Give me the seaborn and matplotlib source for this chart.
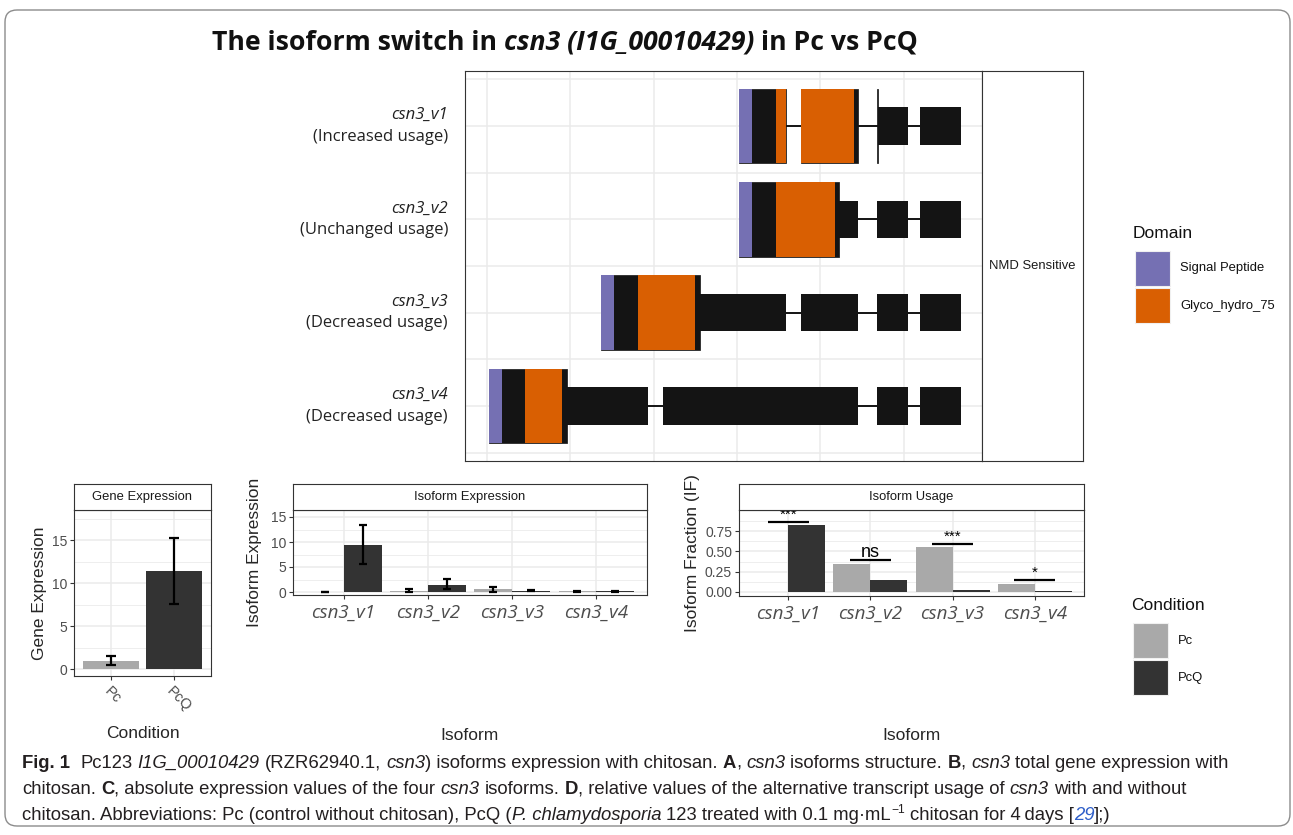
import numpy as np
import pandas as pd
import matplotlib
matplotlib.use("Agg")
import matplotlib.pyplot as plt
import seaborn as sns
from matplotlib import font_manager
from matplotlib.patches import FancyBboxPatch, Rectangle
from matplotlib.transforms import IdentityTransform, blended_transform_factory

# ---- data ----
conditions = ['Pc', 'PcQ']
cond_colors = ['#A9A9A9', '#333333']

# B: total gene expression (mean, lower, upper)
gene_expr = [0.93, 11.4]
gene_lo = [0.45, 7.6]
gene_hi = [1.48, 15.2]

isoforms = ['csn3_v1', 'csn3_v2', 'csn3_v3', 'csn3_v4']
usage_labels = ['(Increased usage)', '(Unchanged usage)', '(Decreased usage)', '(Decreased usage)']

# C: isoform expression
iso_pc = [0.0, 0.2, 0.55, 0.12]
iso_pc_lo = [0.0, 0.0, 0.0, 0.1]
iso_pc_hi = [0.0, 0.67, 1.1, 0.3]
iso_pcq = [9.47, 1.47, 0.25, 0.12]
iso_pcq_lo = [5.67, 0.67, 0.18, 0.1]
iso_pcq_hi = [13.5, 2.67, 0.35, 0.3]

# D: isoform usage (IF) and significance
if_pc = [0.0, 0.34, 0.553, 0.102]
if_pcq = [0.828, 0.148, 0.02, 0.008]
sig_labels = ['***', 'ns', '***', '*']
sig_y = [0.86, 0.39, 0.594, 0.152]

# A: transcript structures (arbitrary bp scale)
exons_v1 = [(1512, 1794), (1884, 2226), (2340, 2526), (2598, 2844)]
exons_v2 = [(1512, 2226), (2340, 2526), (2598, 2844)]
exons_v3 = [(684, 1794), (1884, 2226), (2340, 2526), (2598, 2844)]
exons_v4 = [(12, 966), (1056, 2226), (2340, 2526), (2598, 2844)]
all_exons = [exons_v1, exons_v2, exons_v3, exons_v4]
cds_ranges = [(1512, 2346), (1512, 2112), (684, 1278), (12, 480)]
signal_peptide = [(1512, 1590), (1512, 1590), (684, 762), (12, 90)]
glyco_hydro = [(1734, 2199), (1734, 2088), (906, 1248), (228, 450)]
domain_names = ['Signal Peptide', 'Glyco_hydro_75']
domain_colors = ['#7570B3', '#D95F02']

# ---- setup ----
W, H = 1293, 835
sns.set_theme(style="white")
plt.rcParams['font.family'] = ['Liberation Sans', 'DejaVu Sans']
names = {f.name for f in font_manager.fontManager.ttflist}
cap_family = 'Liberation Sans Narrow' if 'Liberation Sans Narrow' in names else 'Liberation Sans'
HUM = ['Open Sans', 'DejaVu Sans']

fig = plt.figure(figsize=(W / 100, H / 100), dpi=100)
fig.patch.set_facecolor('white')
rend = fig.canvas.get_renderer()

GRID = '#EBEBEB'
BORDER = '#333333'
TICKTXT = '#4D4D4D'
EXON = '#141414'
SMALL = 9.4


def fx(x):
    return x / W


def fy(y):
    return 1 - y / H


def px_axes(x0, y0, x1, y1):
    return fig.add_axes([x0 / W, 1 - y1 / H, (x1 - x0) / W, (y1 - y0) / H])


def px_rect(x0, y0, x1, y1, **kw):
    fig.add_artist(Rectangle((x0, H - y1), x1 - x0, y1 - y0,
                             transform=IdentityTransform(), **kw))


def frame(ax):
    for s in ax.spines.values():
        s.set_visible(True)
        s.set_color(BORDER)
        s.set_linewidth(0.8)


def strip(x0, y0, x1, y1, label):
    ax = px_axes(x0, y0, x1, y1)
    ax.set_facecolor('white')
    ax.set_xticks([])
    ax.set_yticks([])
    frame(ax)
    ax.text(0.5, 0.5, label, ha='center', va='center', fontsize=SMALL,
            color='#1A1A1A', transform=ax.transAxes)
    return ax


def style_bar_axis(ax, ylim, major, minor, ncat):
    ax.set_xlim(-0.6, ncat - 0.4)
    ax.set_ylim(*ylim)
    ax.set_yticks(major)
    ax.set_yticks(minor, minor=True)
    ax.set_axisbelow(True)
    ax.yaxis.grid(True, which='major', color=GRID, lw=1.1)
    ax.yaxis.grid(True, which='minor', color=GRID, lw=0.6)
    ax.xaxis.grid(True, which='major', color=GRID, lw=1.1)
    ax.tick_params(which='major', length=3, width=0.8, color=BORDER,
                   labelsize=10, labelcolor=TICKTXT, pad=2, left=True, bottom=True)
    ax.tick_params(axis='x', pad=3)
    ax.tick_params(which='minor', length=0)
    ax.set_xlabel('')
    ax.set_ylabel('')
    frame(ax)


def add_errorbars(ax, means, lows, highs, capsize):
    bars = sorted(ax.patches, key=lambda p: p.get_x())
    xs = [b.get_x() + b.get_width() / 2 for b in bars]
    m = np.array(means)
    err = [m - np.array(lows), np.array(highs) - m]
    ax.errorbar(xs, m, yerr=err, fmt='none', ecolor='black', elinewidth=1.6,
                capsize=capsize, capthick=1.6, zorder=5)


def measure(s, **kw):
    t1 = fig.text(0, 0, '|' + s + '|', **kw)
    t2 = fig.text(0, 0, '||', **kw)
    w = t1.get_window_extent(rend).width - t2.get_window_extent(rend).width
    t1.remove()
    t2.remove()
    return w


def run_props(style, size, family, color):
    kw = dict(fontsize=size, family=family, color=color)
    if 'b' in style:
        kw['fontweight'] = 'bold'
    if 'i' in style:
        kw['fontstyle'] = 'italic'
    if style == 'sup':
        kw['fontsize'] = size * 0.65
    if style == 'link':
        kw['color'] = '#2F5FC9'
    return kw


def runs_width(runs, size, family, color):
    return sum(measure(s, **run_props(st, size, family, color)) for s, st in runs)


def draw_runs(runs, x, y, size, family, color, center=False):
    if center:
        x -= runs_width(runs, size, family, color) / 2
    for s, st in runs:
        kw = run_props(st, size, family, color)
        lead = len(s) - len(s.lstrip(' '))
        xs = x + (measure(s[:lead], **kw) if lead else 0)
        dy = size * 0.55 if st == 'sup' else 0
        fig.text(fx(xs), fy(y - dy), s.strip(' '), ha='left', va='baseline', **kw)
        x += measure(s, **kw)


# ---- outer frame ----
fig.add_artist(FancyBboxPatch((5, H - 826), 1285, 816,
                              boxstyle='round,pad=0,rounding_size=12',
                              transform=IdentityTransform(), fill=False,
                              edgecolor='#8C8C8C', lw=1.0))

# ---- title ----
title_runs = [('The isoform switch in ', 'b'), ('csn3 (I1G_00010429)', 'bi'),
              (' in Pc vs PcQ', 'b')]
draw_runs(title_runs, 565, 50, 19.2, HUM, '#111111', center=True)

# ---- panel A: isoform structures ----
axA = px_axes(465, 71, 982, 461)
axA.set_xlim(-132, 2970)
axA.set_ylim(len(isoforms) - 1 + 0.59, -0.59)
axA.set_xticks(np.arange(0, 2501, 500))
axA.set_yticks(range(len(isoforms)))
axA.set_yticks(np.arange(-0.5, len(isoforms), 1.0), minor=True)
axA.set_axisbelow(True)
axA.grid(True, which='major', color=GRID, lw=1.1)
axA.yaxis.grid(True, which='minor', color=GRID, lw=1.1)
axA.tick_params(which='both', length=0, labelbottom=False, labelleft=False)
frame(axA)

for i, exons in enumerate(all_exons):
    cs, ce = cds_ranges[i]
    axA.hlines(i, exons[0][0], exons[-1][1], color=EXON, lw=1.4, zorder=2)
    tall, short = [], []
    for s, e in exons:
        ts, te = max(s, cs), min(e, ce)
        if te > ts:
            tall.append((ts, te - ts))
        if s < cs and min(e, cs) > s:
            short.append((s, min(e, cs) - s))
        if e > ce and e > max(s, ce):
            short.append((max(s, ce), e - max(s, ce)))
    axA.broken_barh(short, (i - 0.2, 0.4), facecolor=EXON, edgecolor='none', zorder=3)
    axA.broken_barh(tall, (i - 0.4, 0.8), facecolor=EXON, edgecolor=EXON, lw=0.5, zorder=3)
    for dom, col in zip([signal_peptide[i], glyco_hydro[i]], domain_colors):
        pieces = []
        for s, e in exons:
            ds, de = max(s, dom[0]), min(e, dom[1])
            if de > ds:
                pieces.append((ds, de - ds))
        axA.broken_barh(pieces, (i - 0.4, 0.8), facecolor=col, edgecolor='none', zorder=4)

lab_tr = blended_transform_factory(axA.transAxes, axA.transData)
for i, (iso, use) in enumerate(zip(isoforms, usage_labels)):
    axA.text(-0.033, i - 0.115, iso, transform=lab_tr, ha='right', va='center',
             fontsize=12, family=HUM, fontstyle='italic', color='#222222')
    axA.text(-0.033, i + 0.115, use, transform=lab_tr, ha='right', va='center',
             fontsize=12, family=HUM, color='#222222')

strip(982, 71, 1083, 461, 'NMD Sensitive')

# ---- panel B: gene expression ----
axB = px_axes(74, 510, 211, 676)
df_gene = pd.DataFrame({'Condition': conditions, 'value': gene_expr})
sns.barplot(data=df_gene, x='Condition', y='value', hue='Condition', order=conditions,
            hue_order=conditions, palette=cond_colors, width=0.9, errorbar=None,
            linewidth=0, legend=False, ax=axB)
add_errorbars(axB, gene_expr, gene_lo, gene_hi, 3.8)
style_bar_axis(axB, (-0.81, 18.5), [0, 5, 10, 15], [2.5, 7.5, 12.5, 17.5], len(conditions))
axB.set_xticks(range(len(conditions)))
axB.set_xticklabels(conditions, rotation=-45, ha='left', va='top',
                    rotation_mode='anchor', fontsize=10.5, color=TICKTXT)
strip(74, 484, 211, 510, 'Gene Expression')

# ---- panel C: isoform expression ----
axC = px_axes(293, 510, 647, 595)
df_iso = pd.DataFrame({'Isoform': isoforms * 2,
                       'Condition': ['Pc'] * 4 + ['PcQ'] * 4,
                       'value': iso_pc + iso_pcq})
sns.barplot(data=df_iso, x='Isoform', y='value', hue='Condition', order=isoforms,
            hue_order=conditions, palette=cond_colors, width=0.9, errorbar=None,
            linewidth=0, legend=False, ax=axC)
c_mean = [v for pair in zip(iso_pc, iso_pcq) for v in pair]
c_lo = [v for pair in zip(iso_pc_lo, iso_pcq_lo) for v in pair]
c_hi = [v for pair in zip(iso_pc_hi, iso_pcq_hi) for v in pair]
add_errorbars(axC, c_mean, c_lo, c_hi, 3.0)
style_bar_axis(axC, (-0.6, 16.4), [0, 5, 10, 15], [2.5, 7.5, 12.5], len(isoforms))
axC.set_xticks(range(len(isoforms)))
axC.set_xticklabels(isoforms, fontsize=13.5, family=HUM, fontstyle='italic', color=TICKTXT)
strip(293, 484, 647, 510, 'Isoform Expression')

# ---- panel D: isoform usage ----
axD = px_axes(739, 510, 1084, 596)
df_if = pd.DataFrame({'Isoform': isoforms * 2,
                      'Condition': ['Pc'] * 4 + ['PcQ'] * 4,
                      'value': if_pc + if_pcq})
sns.barplot(data=df_if, x='Isoform', y='value', hue='Condition', order=isoforms,
            hue_order=conditions, palette=cond_colors, width=0.9, errorbar=None,
            linewidth=0, legend=False, ax=axD)
style_bar_axis(axD, (-0.05, 1.01), [0, 0.25, 0.5, 0.75], [0.125, 0.375, 0.625, 0.875],
               len(isoforms))
axD.set_yticklabels(['0.00', '0.25', '0.50', '0.75'])
axD.set_xticks(range(len(isoforms)))
axD.set_xticklabels(isoforms, fontsize=13.5, family=HUM, fontstyle='italic', color=TICKTXT)
for i, (lab, yv) in enumerate(zip(sig_labels, sig_y)):
    axD.hlines(yv, i - 0.25, i + 0.25, color='black', lw=1.6, zorder=6)
    is_ns = lab == 'ns'
    axD.text(i, yv + (-0.012 if is_ns else 0.0), lab, ha='center', va='bottom', zorder=6,
             fontsize=13 if is_ns else 11, color='black', clip_on=True)
strip(739, 484, 1084, 510, 'Isoform Usage')

# ---- axis titles ----
fig.text(fx(40), fy(593), 'Gene Expression', rotation=90, ha='center', va='center', fontsize=12.5)
fig.text(fx(255), fy(552), 'Isoform Expression', rotation=90, ha='center', va='center', fontsize=12.5)
fig.text(fx(692), fy(553), 'Isoform Fraction (IF)', rotation=90, ha='center', va='center', fontsize=12.5)
fig.text(fx(143), fy(733), 'Condition', ha='center', va='center', fontsize=12.5)
fig.text(fx(470), fy(735), 'Isoform', ha='center', va='center', fontsize=12.5)
fig.text(fx(912), fy(735), 'Isoform', ha='center', va='center', fontsize=12.5)

# ---- legends ----
def legend_block(title, labels, colors, x, y_title, y_first):
    fig.text(fx(x), fy(y_title), title, fontsize=12.5, va='center', color='#111111')
    for k, (lab, col) in enumerate(zip(labels, colors)):
        top = y_first + k * 37
        px_rect(x + 2, top, x + 37, top + 35, facecolor=col, edgecolor='#F0F0F0', lw=0.8)
        fig.text(fx(x + 47), fy(top + 17.5), lab, fontsize=SMALL, va='center', color='#111111')


legend_block('Domain', domain_names, domain_colors, 1133, 233, 251)
legend_block('Condition', conditions, cond_colors, 1131, 606, 623)

# ---- caption ----
cap_lines = [
    [('Fig. 1', 'b'), ('  Pc123 ', 'n'), ('I1G_00010429', 'i'), (' (RZR62940.1, ', 'n'),
     ('csn3', 'i'), (') isoforms expression with chitosan. ', 'n'), ('A', 'b'), (', ', 'n'),
     ('csn3', 'i'), (' isoforms structure. ', 'n'), ('B', 'b'), (', ', 'n'), ('csn3', 'i'),
     (' total gene expression with', 'n')],
    [('chitosan. ', 'n'), ('C', 'b'), (', absolute expression values of the four ', 'n'),
     ('csn3', 'i'), (' isoforms. ', 'n'), ('D', 'b'),
     (', relative values of the alternative transcript usage of ', 'n'), ('csn3', 'i'),
     (' with and without', 'n')],
    [('chitosan. Abbreviations: Pc (control without chitosan), PcQ (', 'n'),
     ('P. chlamydosporia', 'i'), (' 123 treated with 0.1 mg\u00b7mL', 'n'), ('\u22121', 'sup'),
     (' chitosan for 4\u2009days [', 'n'), ('29', 'link'), ('];)', 'n')],
]
cap_size = 12 * 1211 / runs_width(cap_lines[0], 12, [cap_family, 'DejaVu Sans'], '#231F20')
for line, yb in zip(cap_lines, [768, 794, 820]):
    draw_runs(line, 22, yb, cap_size, [cap_family, 'DejaVu Sans'], '#231F20')

fig.savefig('out.png', dpi=100)
